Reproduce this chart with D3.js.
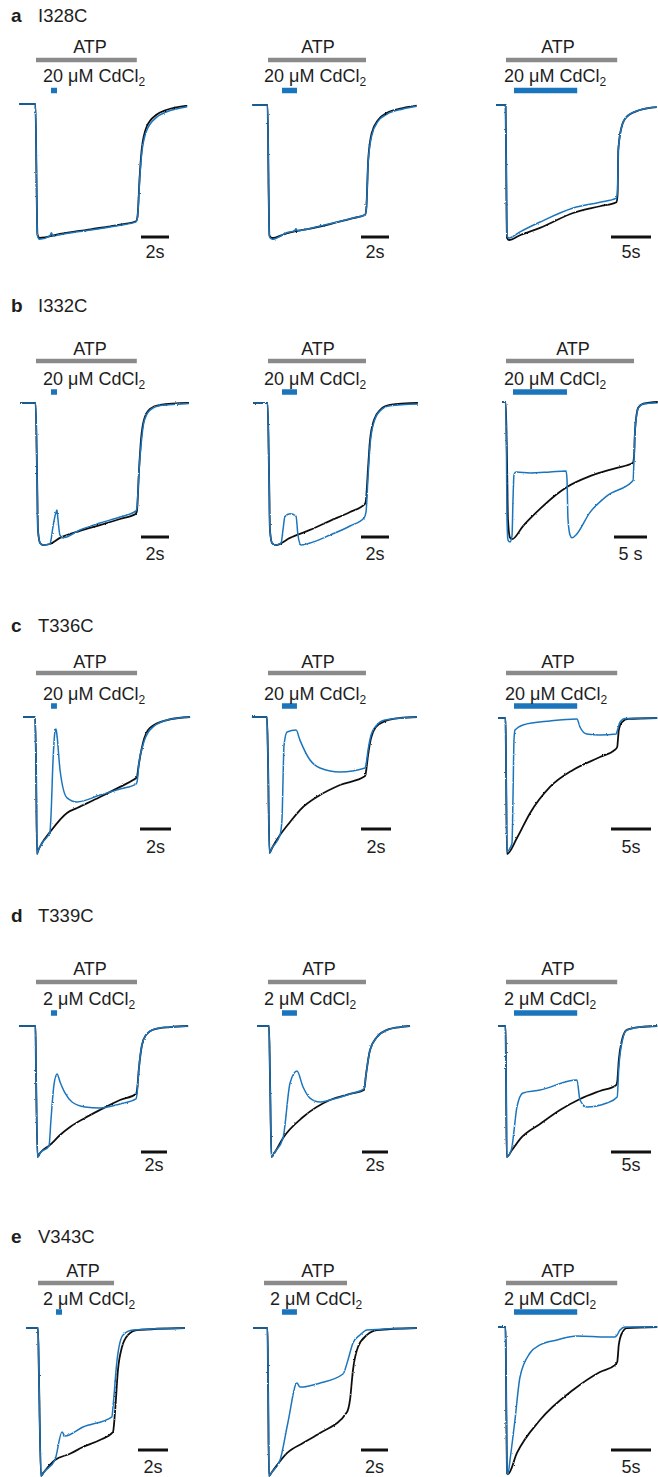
<!DOCTYPE html>
<html>
<head>
<meta charset="utf-8">
<script src="https://d3js.org/d3.v7.min.js"></script>
<style>
  body { margin: 0; background: #fff; }
  text { font-family: "Liberation Sans", Arial, sans-serif; fill: #1e1e1e; }
</style>
</head>
<body>
<script>

// ---- data: time in s from ATP onset, current normalised to peak (0 = baseline, -1 = peak)
var rowLabels = ["a", "b", "c", "d", "e"]
var mutants = ["I328C", "I332C", "T336C", "T339C", "V343C"]
var cdConc = ["20 μM CdCl", "20 μM CdCl", "20 μM CdCl", "2 μM CdCl", "2 μM CdCl"]

var atpTimes = [
  [[0, 7.2], [0, 7.0], [0, 13.9]],
  [[0, 7.2], [0, 7.0], [0, 19.4]],
  [[0, 6.52], [0, 6.53], [0, 13.9]],
  [[0, 7.77], [-0.08, 7.46], [0, 13.9]],
  [[0, 5.07], [0, 6.15], [0, 13.9]]
]
var cdTimes = [
  [[1.07, 1.5], [1.0, 2.07], [1.0, 8.9]],
  [[1.07, 1.5], [1.0, 2.07], [1.06, 9.24]],
  [[0.97, 1.35], [0.93, 1.93], [1.0, 8.9]],
  [[1.15, 1.62], [1.0, 2.15], [1.0, 8.9]],
  [[1.2, 1.6], [1.33, 2.44], [1.0, 8.9]]
]
var scaleSec = [[2, 2, 5], [2, 2, 5], [2, 2, 5], [2, 2, 5], [2, 2, 5]]
var scaleText = [["2s", "2s", "5s"], ["2s", "2s", "5 s"], ["2s", "2s", "5s"], ["2s", "2s", "5s"], ["2s", "2s", "5s"]]

// row a
var black_a1 = [[-1.2,0],[-0.04,0],[0.04,-0.6],[0.1,-0.97],[0.25,-1],[1.7,-0.97],[3.9,-0.935],[6,-0.9],[7.14,-0.875],[7.25,-0.84],[7.4,-0.55],[7.55,-0.34],[7.9,-0.17],[8.6,-0.08],[9.3,-0.045],[10.8,-0.012]]
var blue_a1 = [[-1.2,0],[-0.04,0],[0.04,-0.6],[0.1,-0.98],[0.25,-1.01],[1.0,-0.985],[1.1,-0.96],[1.2,-0.985],[1.7,-0.975],[3.9,-0.94],[6,-0.905],[7.14,-0.88],[7.25,-0.845],[7.4,-0.57],[7.55,-0.37],[7.9,-0.2],[8.6,-0.1],[9.3,-0.06],[10.8,-0.02]]
var black_a2 = [[-1.12,0],[-0.03,0],[0.04,-0.6],[0.1,-0.98],[0.3,-1],[1.34,-0.965],[3.71,-0.915],[6.09,-0.85],[6.93,-0.827],[7.02,-0.78],[7.16,-0.41],[7.41,-0.21],[7.88,-0.11],[8.48,-0.06],[9.64,-0.023],[10.62,-0.005]]
var blue_a2 = [[-1.12,0],[-0.03,0],[0.04,-0.6],[0.1,-0.99],[0.3,-1.01],[1.34,-0.96],[1.9,-0.945],[2.0,-0.93],[2.1,-0.945],[3.71,-0.91],[6.09,-0.85],[6.93,-0.825],[7.02,-0.78],[7.16,-0.42],[7.41,-0.23],[7.88,-0.12],[8.48,-0.07],[9.64,-0.03],[10.62,-0.01]]
var black_a3 = [[-1.25,0],[-0.05,0],[0.06,-0.7],[0.12,-0.985],[0.37,-1],[1.75,-0.965],[4.25,-0.91],[8.4,-0.8],[11.75,-0.75],[13.8,-0.72],[13.95,-0.66],[14.04,-0.33],[14.46,-0.16],[15.09,-0.087],[16.75,-0.037],[18.84,-0.015]]
var blue_a3 = [[-1.25,0],[-0.05,0],[0.06,-0.7],[0.12,-0.97],[0.37,-0.985],[1.75,-0.94],[4.25,-0.867],[8.4,-0.763],[11.75,-0.72],[13.8,-0.69],[13.95,-0.63],[14.04,-0.33],[14.46,-0.16],[15.09,-0.087],[16.75,-0.037],[18.84,-0.015]]

// row b
var black_b1 = [[-1.14,0],[-0.03,0],[0.07,-0.47],[0.14,-0.894],[0.29,-0.986],[0.5,-1],[1.0,-0.993],[1.71,-0.95],[3.14,-0.9],[4.57,-0.86],[6,-0.817],[7.14,-0.78],[7.21,-0.76],[7.36,-0.47],[7.5,-0.26],[7.71,-0.12],[8.14,-0.042],[8.86,-0.014],[10.93,0]]
var blue_b1 = [[-1.14,0],[-0.03,0],[0.07,-0.47],[0.14,-0.894],[0.29,-0.986],[0.5,-1],[1.0,-0.993],[1.07,-0.965],[1.21,-0.873],[1.43,-0.77],[1.5,-0.754],[1.57,-0.82],[1.71,-0.93],[1.93,-0.95],[3.14,-0.894],[4.57,-0.845],[6,-0.803],[7.14,-0.76],[7.21,-0.74],[7.36,-0.47],[7.5,-0.3],[7.71,-0.134],[8.14,-0.05],[8.86,-0.018],[10.93,-0.003]]
var black_b2 = [[-1.07,0],[-0.03,0],[0.07,-0.47],[0.14,-0.894],[0.29,-0.986],[0.57,-1],[1.57,-0.95],[3,-0.894],[4.43,-0.83],[5.86,-0.768],[6.93,-0.711],[7,-0.683],[7.14,-0.47],[7.29,-0.26],[7.57,-0.12],[8,-0.05],[8.71,-0.014],[10.71,0]]
var blue_b2 = [[-1.07,0],[-0.03,0],[0.07,-0.47],[0.14,-0.894],[0.29,-0.986],[0.57,-1],[0.93,-0.986],[1.07,-0.894],[1.21,-0.8],[1.57,-0.78],[2,-0.796],[2.14,-0.93],[2.36,-1],[3,-0.986],[4.43,-0.93],[5.86,-0.866],[6.86,-0.81],[7,-0.768],[7.14,-0.528],[7.29,-0.296],[7.57,-0.134],[8,-0.056],[8.71,-0.02],[10.71,-0.007]]
var black_b3 = [[-0.6,0],[-0.05,0],[0.15,-0.41],[0.3,-0.84],[0.61,-0.97],[0.91,-0.98],[2.58,-0.886],[5.15,-0.764],[7.73,-0.657],[9.24,-0.607],[12.7,-0.53],[16.8,-0.47],[19.2,-0.436],[19.4,-0.39],[19.55,-0.2],[20.05,-0.04],[20.8,-0.012],[23,0]]
var blue_b3 = [[-0.6,0],[-0.05,0],[0.08,-0.41],[0.15,-0.84],[0.3,-0.986],[0.61,-1],[0.91,-0.957],[1.06,-0.7],[1.21,-0.52],[1.52,-0.5],[3.64,-0.507],[6.67,-0.5],[9.1,-0.493],[9.24,-0.55],[9.39,-0.836],[9.7,-0.95],[10,-0.97],[10.6,-0.95],[12.7,-0.79],[15.3,-0.67],[19.25,-0.56],[19.4,-0.4],[19.55,-0.2],[20.05,-0.043],[20.8,-0.014],[23,-0.005]]

// row c
var black_c1 = [[-0.84,0],[-0.06,0],[0,-0.314],[0.065,-1],[0.13,-0.978],[0.39,-0.92],[0.9,-0.84],[2.0,-0.7],[2.65,-0.664],[4.13,-0.584],[5.42,-0.51],[6.26,-0.46],[6.52,-0.438],[6.58,-0.387],[6.9,-0.19],[7.35,-0.08],[8.45,-0.022],[9.94,0]]
var blue_c1 = [[-0.84,0],[-0.06,0],[0,-0.314],[0.065,-1],[0.13,-0.978],[0.39,-0.92],[0.9,-0.84],[0.97,-0.715],[1.1,-0.314],[1.23,-0.102],[1.29,-0.088],[1.35,-0.13],[1.55,-0.387],[2.0,-0.59],[2.65,-0.62],[4.13,-0.57],[5.42,-0.526],[6.45,-0.49],[6.52,-0.474],[6.65,-0.33],[6.9,-0.204],[7.35,-0.095],[8.45,-0.022],[9.94,0]]
var black_c2 = [[-1.07,0],[-0.07,0],[0,-0.316],[0.1,-1],[0.27,-0.963],[0.8,-0.868],[1.47,-0.772],[2.13,-0.684],[3.47,-0.574],[4.8,-0.5],[6.47,-0.434],[6.53,-0.404],[6.67,-0.28],[6.87,-0.154],[7.2,-0.074],[7.8,-0.03],[8.8,-0.007],[9.93,0]]
var blue_c2 = [[-1.07,0],[-0.07,0],[0,-0.316],[0.1,-1],[0.27,-0.963],[0.8,-0.868],[0.93,-0.757],[1.07,-0.206],[1.27,-0.11],[1.87,-0.096],[2.13,-0.17],[2.8,-0.316],[3.47,-0.375],[4.8,-0.404],[6.47,-0.375],[6.53,-0.353],[6.67,-0.243],[6.87,-0.132],[7.2,-0.066],[7.8,-0.022],[9.93,0]]
var black_c3 = [[-1,0],[-0.06,0],[0,-0.31],[0.12,-1],[1.37,-0.882],[3,-0.7],[5.5,-0.507],[8.37,-0.382],[11.75,-0.287],[13.6,-0.235],[13.9,-0.213],[14.1,-0.088],[14.5,-0.03],[15.25,-0.007],[18.9,0]]
var blue_c3 = [[-1,0],[-0.06,0],[0,-0.31],[0.12,-0.985],[0.5,-0.956],[0.75,-0.92],[0.87,-0.6],[1.0,-0.16],[1.12,-0.088],[2.12,-0.051],[5.5,-0.022],[8.87,-0.007],[9.25,-0.066],[10.1,-0.118],[11.75,-0.125],[13.75,-0.118],[13.9,-0.096],[14.25,-0.03],[14.9,-0.004],[18.9,0]]

// row d
var black_d1 = [[-1.31,0],[-0.04,0],[0,-0.336],[0.12,-1],[0.31,-0.97],[1.08,-0.908],[1.85,-0.832],[2.62,-0.771],[3.77,-0.702],[4.92,-0.641],[6.46,-0.565],[7.69,-0.519],[7.77,-0.489],[7.92,-0.32],[8.15,-0.145],[8.46,-0.069],[9.15,-0.023],[10.3,-0.008],[11.7,0]]
var blue_d1 = [[-1.31,0],[-0.04,0],[0,-0.336],[0.12,-1],[0.31,-0.97],[1.0,-0.916],[1.15,-0.718],[1.38,-0.45],[1.62,-0.366],[1.85,-0.427],[2.23,-0.511],[2.77,-0.58],[3.77,-0.618],[4.92,-0.626],[6.46,-0.595],[7.69,-0.557],[7.77,-0.519],[7.92,-0.32],[8.15,-0.145],[8.46,-0.069],[9.15,-0.023],[10.3,-0.008],[11.7,0]]
var black_d2 = [[-0.92,0],[0,0],[0.08,-0.41],[0.19,-1],[0.46,-0.962],[1.08,-0.855],[2.62,-0.695],[4.69,-0.565],[6.23,-0.519],[7.31,-0.489],[7.46,-0.374],[7.77,-0.183],[8.31,-0.084],[9.08,-0.03],[10.08,-0.008],[10.85,0]]
var blue_d2 = [[-0.92,0],[0,0],[0.08,-0.41],[0.19,-1],[0.46,-0.962],[1.08,-0.855],[1.62,-0.435],[2.15,-0.344],[2.62,-0.466],[3.15,-0.55],[3.92,-0.58],[4.69,-0.565],[6.23,-0.519],[7.31,-0.48],[7.46,-0.374],[7.77,-0.183],[8.31,-0.084],[9.08,-0.03],[10.08,-0.008],[10.85,0]]
var black_d3 = [[-1,0],[-0.06,0],[0,-0.336],[0.09,-1],[0.75,-0.947],[1.75,-0.863],[4.25,-0.748],[6.75,-0.641],[9.25,-0.557],[11.75,-0.496],[13.75,-0.452],[13.9,-0.427],[14.1,-0.26],[14.5,-0.107],[15.1,-0.03],[16.75,-0.008],[18.9,0]]
var blue_d3 = [[-1,0],[-0.06,0],[0,-0.336],[0.09,-1],[0.5,-0.97],[0.75,-0.924],[1.0,-0.8],[1.37,-0.618],[2.12,-0.511],[4.25,-0.489],[8.87,-0.412],[9.25,-0.565],[10.1,-0.618],[12.6,-0.588],[13.9,-0.542],[14.1,-0.32],[14.5,-0.122],[15.1,-0.03],[16.75,-0.008],[18.9,0]]

// row e
var black_e1 = [[-0.8,0],[0,0],[0.067,-0.35],[0.2,-1],[0.4,-0.973],[1.13,-0.892],[2.13,-0.85],[3,-0.804],[4.13,-0.757],[5,-0.703],[5.13,-0.574],[5.33,-0.284],[5.6,-0.128],[6,-0.047],[6.6,-0.014],[9.8,0]]
var blue_e1 = [[-0.8,0],[0,0],[0.067,-0.35],[0.2,-1],[0.4,-0.973],[1.13,-0.892],[1.6,-0.703],[1.8,-0.73],[3,-0.669],[4.93,-0.6],[5,-0.534],[5.27,-0.216],[5.67,-0.047],[6.33,-0.014],[9.8,0]]
var black_e2 = [[-0.81,0],[0.26,0],[0.3,-0.35],[0.37,-1],[0.59,-0.973],[1.7,-0.845],[2.89,-0.777],[4.15,-0.71],[6.15,-0.568],[6.37,-0.486],[6.59,-0.284],[6.96,-0.128],[7.63,-0.047],[8.37,-0.014],[11.33,0]]
var blue_e2 = [[-0.81,0],[0.26,0],[0.3,-0.35],[0.37,-1],[0.59,-0.973],[1.19,-0.892],[1.78,-0.635],[2.44,-0.372],[2.67,-0.399],[4.15,-0.372],[5.85,-0.311],[6.22,-0.216],[6.59,-0.101],[7.11,-0.047],[7.63,-0.014],[11.33,0]]
var black_e3 = [[-1,0],[-0.06,0],[0,-0.29],[0.12,-0.993],[0.25,-1],[1.37,-0.857],[4.25,-0.633],[8.37,-0.429],[11.75,-0.306],[13.6,-0.259],[13.9,-0.238],[14.1,-0.122],[14.5,-0.041],[15.1,-0.007],[18.9,0]]
var blue_e3 = [[-1,0],[-0.06,0],[0,-0.29],[0.12,-0.993],[0.25,-1],[0.5,-0.905],[1.12,-0.633],[1.75,-0.34],[3,-0.177],[4.25,-0.122],[6.37,-0.088],[8.87,-0.061],[12.6,-0.068],[13.6,-0.068],[13.9,-0.054],[14.25,-0.02],[14.9,0],[18.9,0]]

var blackTraces = [[black_a1, black_a2, black_a3], [black_b1, black_b2, black_b3], [black_c1, black_c2, black_c3], [black_d1, black_d2, black_d3], [black_e1, black_e2, black_e3]]
var blueTraces = [[blue_a1, blue_a2, blue_a3], [blue_b1, blue_b2, blue_b3], [blue_c1, blue_c2, blue_c3], [blue_d1, blue_d2, blue_d3], [blue_e1, blue_e2, blue_e3]]

// ---- layout (pixels)
// per panel: x at t=0, px per second, baseline y, peak y, ATP label x, Cd label x, scale bar x
var frames = [
  [[36, 14, 104, 238, 90, 43, 141], [268, 14, 105, 238, 318, 264, 361], [506, 8, 105, 240, 558, 504, 611]],
  [[36, 14, 403, 545, 90, 43, 141], [268, 14, 403, 545, 318, 264, 361], [506, 6.6, 402, 542, 573, 504, 614]],
  [[36, 15.5, 717, 854, 90, 43, 140], [268, 15, 717, 853, 318, 264, 361], [506, 8, 718, 854, 558, 505, 611]],
  [[36, 13, 1026, 1157, 90, 43, 141], [269, 13, 1026, 1157, 319, 264, 362], [506, 8, 1026, 1157, 558, 504, 611]],
  [[38, 15, 1328, 1476, 83, 43, 138], [264, 13.5, 1328, 1476, 318, 270, 361], [506, 8, 1327, 1474, 558, 504, 611]]
]
var rowY = [
  {label: 22, atp: 53, bar: 60, cd: 82, cdBar: 90.5, sb: 237, sbText: 258},
  {label: 312, atp: 355, bar: 361, cd: 385, cdBar: 392, sb: 537, sbText: 560},
  {label: 632, atp: 668, bar: 673, cd: 700, cdBar: 706, sb: 829, sbText: 853},
  {label: 922, atp: 975, bar: 982, cd: 1005, cdBar: 1013, sb: 1152, sbText: 1171},
  {label: 1243, atp: 1277, bar: 1283, cd: 1305, cdBar: 1312, sb: 1450, sbText: 1473}
]

var W = 658, H = 1477
var blue = "#1b75bc", gray = "#8a8a8a"

var svg = d3.select("body").append("svg")
  .attr("width", W)
  .attr("height", H)

// slight recording noise look
var filt = svg.append("defs").append("filter").attr("id", "noise")
  .attr("x", "-5%").attr("y", "-5%").attr("width", "110%").attr("height", "110%")
filt.append("feTurbulence").attr("type", "fractalNoise").attr("baseFrequency", 0.9)
  .attr("numOctaves", 1).attr("seed", 4).attr("result", "n")
filt.append("feDisplacementMap").attr("in", "SourceGraphic").attr("in2", "n")
  .attr("scale", 2.2).attr("xChannelSelector", "R").attr("yChannelSelector", "G")

rowLabels.forEach(function(lab, r) {
  var ry = rowY[r]
  svg.append("text").attr("x", 11).attr("y", ry.label)
    .style("font-size", "19px").style("font-weight", "bold").text(lab)
  svg.append("text").attr("x", 38).attr("y", ry.label)
    .style("font-size", "18.5px").text(mutants[r])

  for (var c = 0; c < 3; c++) {
    var f = frames[r][c]
    var x = d3.scaleLinear().domain([0, 1]).range([f[0], f[0] + f[1]])
    var y = d3.scaleLinear().domain([-1, 0]).range([f[3], f[2]])
    var g = svg.append("g")

    // ATP bar + label
    var atp = atpTimes[r][c]
    g.append("line").attr("x1", x(atp[0])).attr("x2", x(atp[1]))
      .attr("y1", ry.bar).attr("y2", ry.bar)
      .attr("stroke", gray).attr("stroke-width", 4.5)
    g.append("text").attr("x", f[4]).attr("y", ry.atp)
      .attr("text-anchor", "middle").style("font-size", "18px").text("ATP")

    // Cd bar + label
    var cd = cdTimes[r][c]
    g.append("line").attr("x1", x(cd[0])).attr("x2", x(cd[1]))
      .attr("y1", ry.cdBar).attr("y2", ry.cdBar)
      .attr("stroke", blue).attr("stroke-width", 5.5)
    var t = g.append("text").attr("x", f[5]).attr("y", ry.cd).style("font-size", "18px")
    t.append("tspan").text(cdConc[r])
    t.append("tspan").attr("dy", 4).style("font-size", "12px").text("2")

    // traces
    var line = d3.line().x(function(d) { return x(d[0]) }).y(function(d) { return y(d[1]) })
      .curve(d3.curveMonotoneX)
    g.append("path").datum(blackTraces[r][c]).attr("d", line)
      .attr("fill", "none").attr("stroke", "#111").attr("stroke-width", 1.8)
      .attr("stroke-linejoin", "round").attr("filter", "url(#noise)")
    g.append("path").datum(blueTraces[r][c]).attr("d", line)
      .attr("fill", "none").attr("stroke", blue).attr("stroke-width", 1.5)
      .attr("stroke-linejoin", "round").attr("filter", "url(#noise)")

    // scale bar
    var sbLen = x(scaleSec[r][c]) - x(0)
    g.append("line").attr("x1", f[6]).attr("x2", f[6] + sbLen)
      .attr("y1", ry.sb).attr("y2", ry.sb)
      .attr("stroke", "#111").attr("stroke-width", 3)
    g.append("text").attr("x", f[6] + sbLen / 2).attr("y", ry.sbText)
      .attr("text-anchor", "middle").style("font-size", "18px").text(scaleText[r][c])
  }
})

</script>
</body>
</html>
